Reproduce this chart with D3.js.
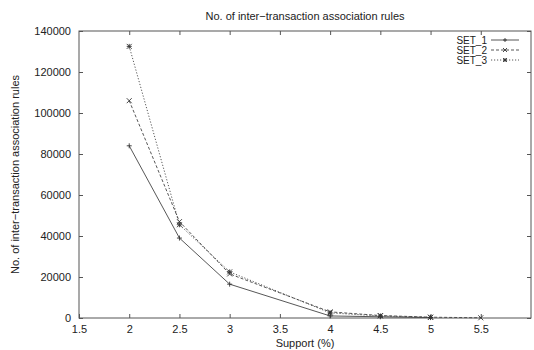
<!DOCTYPE html>
<html>
<head>
  <meta charset="utf-8">
  <title>No. of inter-transaction association rules</title>
  <script src="https://d3js.org/d3.v7.min.js"></script>
  <style>
    body { margin: 0; background: #fff; }
    svg { display: block; font-family: "Liberation Sans", Arial, Helvetica, sans-serif; }
    .axis path, .axis line { stroke: #555; }
    .axis text { fill: #222; font-size: 11px; }
    .line { fill: none; stroke: #444; stroke-width: 0.9px; }
    .mark { fill: none; stroke: #333; stroke-width: 0.9px; }
  </style>
</head>
<body>
<script>
  // Data
  var seriesNames = ["SET_1", "SET_2", "SET_3"];
  var set1 = [[2, 84000], [2.5, 39000], [3, 16500], [4, 1000], [4.5, 600], [5, 200]];
  var set2 = [[2, 106000], [2.5, 47000], [3, 21500], [4, 3000], [4.5, 1200], [5, 400], [5.5, 100]];
  var set3 = [[2, 132500], [2.5, 45500], [3, 22500], [4, 2500], [4.5, 1000], [5, 300]];
  var xTicks = [1.5, 2, 2.5, 3, 3.5, 4, 4.5, 5, 5.5];
  var yTicks = [0, 20000, 40000, 60000, 80000, 100000, 120000, 140000];

  var width = 534, height = 350;
  var margin = {top: 31, right: 3, bottom: 32, left: 79};

  var svg = d3.select("body").append("svg")
      .attr("width", width)
      .attr("height", height);

  var x = d3.scaleLinear().domain([1.5, 6]).range([margin.left, width - margin.right]);
  var y = d3.scaleLinear().domain([0, 140000]).range([height - margin.bottom, margin.top]);

  // border box
  svg.append("rect")
      .attr("x", x(1.5)).attr("y", y(140000))
      .attr("width", x(6) - x(1.5)).attr("height", y(0) - y(140000))
      .attr("fill", "none").attr("stroke", "#555").attr("stroke-width", 1);

  // ticks, gnuplot style (inward, mirrored)
  var tl = 4;
  svg.append("g").attr("class", "axis")
      .attr("transform", "translate(0," + y(0) + ")")
      .call(d3.axisBottom(x).tickValues(xTicks).tickSize(-tl).tickPadding(7)
              .tickFormat(function(d) { return d; }))
      .call(function(g) { g.select(".domain").remove(); });
  svg.append("g").attr("class", "axis")
      .attr("transform", "translate(0," + y(140000) + ")")
      .call(d3.axisTop(x).tickValues(xTicks.slice(1)).tickSize(-tl).tickFormat(""))
      .call(function(g) { g.select(".domain").remove(); });
  svg.append("g").attr("class", "axis")
      .attr("transform", "translate(" + x(1.5) + ",0)")
      .call(d3.axisLeft(y).tickValues(yTicks).tickSize(-tl).tickPadding(8)
              .tickFormat(function(d) { return d; }))
      .call(function(g) { g.select(".domain").remove(); });
  svg.append("g").attr("class", "axis")
      .attr("transform", "translate(" + x(6) + ",0)")
      .call(d3.axisRight(y).tickValues(yTicks).tickSize(-tl).tickFormat(""))
      .call(function(g) { g.select(".domain").remove(); });

  // titles
  svg.append("text")
      .attr("x", (x(1.5) + x(6)) / 2).attr("y", 20)
      .attr("text-anchor", "middle").attr("font-size", 11).attr("fill", "#222")
      .text("No. of inter\u2212transaction association rules");
  svg.append("text")
      .attr("x", (x(1.5) + x(6)) / 2).attr("y", 347)
      .attr("text-anchor", "middle").attr("font-size", 11).attr("fill", "#222")
      .text("Support (%)");
  svg.append("text")
      .attr("transform", "translate(19," + (y(70000)) + ") rotate(-90)")
      .attr("text-anchor", "middle").attr("font-size", 11).attr("fill", "#222")
      .text("No. of inter\u2212transaction association rules");

  var series = [
    {name: seriesNames[0], values: set1, dash: null, mark: "plus"},
    {name: seriesNames[1], values: set2, dash: "3,2", mark: "cross"},
    {name: seriesNames[2], values: set3, dash: "1.2,1.8", mark: "star"}
  ];

  var line = d3.line()
      .x(function(d) { return x(d[0]); })
      .y(function(d) { return y(d[1]); });

  function markPath(type, s) {
    var h = s / 2;
    var p = "";
    if (type === "plus" || type === "star") p += "M" + (-h) + ",0H" + h + "M0," + (-h) + "V" + h;
    if (type === "cross" || type === "star") p += "M" + (-h) + "," + (-h) + "L" + h + "," + h + "M" + (-h) + "," + h + "L" + h + "," + (-h);
    return p;
  }

  var sg = svg.selectAll(".series").data(series).enter().append("g").attr("class", "series");

  sg.append("path")
      .attr("class", "line")
      .attr("stroke-dasharray", function(d) { return d.dash; })
      .attr("d", function(d) { return line(d.values); });

  sg.each(function(s) {
    d3.select(this).selectAll(".mark").data(s.values).enter().append("path")
        .attr("class", "mark")
        .attr("transform", function(d) { return "translate(" + x(d[0]) + "," + y(d[1]) + ")"; })
        .attr("d", markPath(s.mark, 5));
  });

  // legend
  var lg = svg.append("g").selectAll("g").data(series).enter().append("g")
      .attr("transform", function(d, i) { return "translate(0," + (40 + i * 10) + ")"; });
  lg.append("text")
      .attr("x", 487).attr("dy", "0.35em")
      .attr("text-anchor", "end").attr("font-size", 10).attr("fill", "#222")
      .text(function(d) { return d.name; });
  lg.append("line")
      .attr("class", "line")
      .attr("x1", 491).attr("x2", 519)
      .attr("stroke-dasharray", function(d) { return d.dash; });
  lg.append("path")
      .attr("class", "mark")
      .attr("transform", "translate(505,0)")
      .attr("d", function(d) { return markPath(d.mark, 4); });
</script>
</body>
</html>
